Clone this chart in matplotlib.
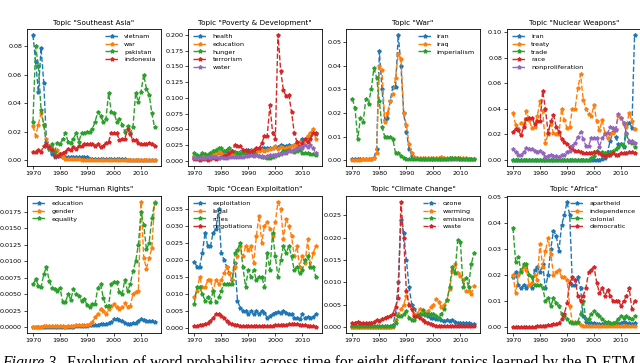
import numpy as np
import matplotlib
matplotlib.use("Agg")
import matplotlib.pyplot as plt
from matplotlib.ticker import MultipleLocator

years = list(range(1970, 2016))

# Southeast Asia
sea_vietnam = [0.088, 0.069, 0.048, 0.079, 0.054, 0.013, 0.008, 0.004, 0.002, 0.003,
               0.003, 0.002, 0.002, 0.002, 0.002, 0.002, 0.002, 0.002, 0.002, 0.002,
               0.002, 0.001, 0.001, 0.001, 0.001, 0.0008, 0.0008, 0.0007, 0.0007, 0.0006,
               0.0006, 0.0005, 0.0005, 0.0005, 0.0005, 0.0004, 0.0004, 0.0004, 0.0004, 0.0004,
               0.0003, 0.0003, 0.0003, 0.0003, 0.0003, 0.0003]
sea_war = [0.024, 0.017, 0.025, 0.033, 0.025, 0.015, 0.010, 0.008, 0.006, 0.007,
           0.004, 0.002, 0.001, 0.0008, 0.0006, 0.0005, 0.0005, 0.0005, 0.0004, 0.0004,
           0.0004, 0.0004, 0.0003, 0.0003, 0.0003, 0.0003, 0.0003, 0.0003, 0.0003, 0.0003,
           0.0003, 0.0003, 0.0003, 0.0003, 0.0003, 0.0003, 0.0003, 0.0003, 0.0003, 0.0003,
           0.0003, 0.0003, 0.0003, 0.0003, 0.0003, 0.0003]
sea_pakistan = [0.027, 0.080, 0.066, 0.035, 0.025, 0.010, 0.008, 0.011, 0.006, 0.012,
                0.011, 0.015, 0.019, 0.013, 0.012, 0.015, 0.019, 0.013, 0.019, 0.019,
                0.020, 0.020, 0.022, 0.027, 0.034, 0.031, 0.027, 0.029, 0.047, 0.034,
                0.033, 0.027, 0.029, 0.025, 0.020, 0.024, 0.019, 0.023, 0.047, 0.041,
                0.048, 0.060, 0.050, 0.046, 0.033, 0.023]
sea_indonesia = [0.006, 0.006, 0.007, 0.006, 0.010, 0.011, 0.009, 0.007, 0.003, 0.003,
                 0.004, 0.005, 0.006, 0.008, 0.007, 0.009, 0.008, 0.010, 0.010, 0.011,
                 0.011, 0.011, 0.011, 0.010, 0.011, 0.009, 0.010, 0.012, 0.013, 0.019,
                 0.019, 0.019, 0.014, 0.015, 0.015, 0.022, 0.018, 0.014, 0.014, 0.012,
                 0.011, 0.011, 0.011, 0.012, 0.011, 0.010]

# Poverty & Development
pov_health = [0.006, 0.005, 0.006, 0.007, 0.007, 0.008, 0.009, 0.010, 0.012, 0.013,
              0.014, 0.013, 0.012, 0.011, 0.011, 0.012, 0.013, 0.014, 0.015, 0.016,
              0.017, 0.017, 0.016, 0.016, 0.018, 0.020, 0.020, 0.021, 0.020, 0.020,
              0.022, 0.022, 0.025, 0.023, 0.024, 0.025, 0.024, 0.026, 0.028, 0.030,
              0.035, 0.033, 0.038, 0.040, 0.045, 0.042]
pov_education = [0.008, 0.007, 0.008, 0.009, 0.009, 0.010, 0.011, 0.012, 0.013, 0.014,
                 0.012, 0.011, 0.010, 0.009, 0.010, 0.011, 0.012, 0.013, 0.014, 0.013,
                 0.014, 0.015, 0.014, 0.015, 0.016, 0.017, 0.016, 0.018, 0.019, 0.020,
                 0.024, 0.019, 0.022, 0.020, 0.021, 0.022, 0.023, 0.025, 0.026, 0.030,
                 0.025, 0.033, 0.040, 0.045, 0.050, 0.035]
pov_hunger = [0.012, 0.010, 0.008, 0.012, 0.011, 0.010, 0.013, 0.015, 0.018, 0.020,
              0.021, 0.015, 0.018, 0.021, 0.015, 0.014, 0.012, 0.011, 0.013, 0.012,
              0.011, 0.010, 0.012, 0.009, 0.008, 0.007, 0.006, 0.005, 0.004, 0.006,
              0.008, 0.010, 0.012, 0.015, 0.016, 0.017, 0.016, 0.014, 0.015, 0.018,
              0.013, 0.012, 0.012, 0.011, 0.011, 0.010]
pov_terrorism = [0.003, 0.003, 0.002, 0.003, 0.003, 0.002, 0.003, 0.004, 0.003, 0.004,
                 0.006, 0.008, 0.010, 0.012, 0.015, 0.025, 0.024, 0.023, 0.018, 0.017,
                 0.015, 0.014, 0.018, 0.020, 0.020, 0.028, 0.040, 0.040, 0.088, 0.045,
                 0.035, 0.200, 0.143, 0.112, 0.103, 0.105, 0.078, 0.045, 0.030, 0.022,
                 0.028, 0.035, 0.030, 0.035, 0.045, 0.045]
pov_water = [0.005, 0.004, 0.004, 0.005, 0.005, 0.006, 0.005, 0.006, 0.006, 0.005,
             0.006, 0.005, 0.005, 0.006, 0.006, 0.007, 0.006, 0.006, 0.007, 0.008,
             0.008, 0.009, 0.008, 0.009, 0.008, 0.008, 0.007, 0.008, 0.009, 0.010,
             0.010, 0.011, 0.011, 0.012, 0.013, 0.015, 0.016, 0.018, 0.020, 0.022,
             0.021, 0.025, 0.022, 0.026, 0.020, 0.012]

# War
war_iran = [0.0005, 0.0005, 0.0005, 0.0005, 0.0005, 0.0005, 0.0005, 0.0006, 0.001, 0.005,
            0.046, 0.030, 0.017, 0.018, 0.025, 0.031, 0.031, 0.053, 0.040, 0.020,
            0.012, 0.005, 0.002, 0.001, 0.0008, 0.0006, 0.0005, 0.0005, 0.0005, 0.0005,
            0.0005, 0.0005, 0.0005, 0.0005, 0.0005, 0.0005, 0.0005, 0.0005, 0.0005, 0.0005,
            0.0005, 0.0005, 0.0005, 0.0005, 0.0005, 0.0005]
war_iraq = [0.0003, 0.0003, 0.0003, 0.0003, 0.0004, 0.0004, 0.0005, 0.0006, 0.0008, 0.003,
            0.040, 0.038, 0.016, 0.020, 0.025, 0.028, 0.035, 0.045, 0.043, 0.020,
            0.015, 0.007, 0.003, 0.0015, 0.001, 0.001, 0.001, 0.001, 0.001, 0.001,
            0.001, 0.001, 0.0012, 0.0015, 0.0012, 0.001, 0.001, 0.001, 0.001, 0.0008,
            0.0008, 0.0008, 0.0008, 0.0007, 0.0007, 0.0007]
war_imperialism = [0.026, 0.022, 0.009, 0.018, 0.016, 0.026, 0.024, 0.030, 0.039, 0.035,
                   0.025, 0.014, 0.010, 0.010, 0.010, 0.009, 0.003, 0.003, 0.002, 0.001,
                   0.0006, 0.0005, 0.0005, 0.0005, 0.0005, 0.0005, 0.0005, 0.0005, 0.0005, 0.0005,
                   0.0005, 0.0005, 0.0005, 0.0005, 0.0005, 0.0006, 0.0008, 0.0012, 0.001, 0.0008,
                   0.0006, 0.0006, 0.0006, 0.0006, 0.0006, 0.0006]

# Nuclear Weapons
nuc_iran = [0.0] * 33 + [0.0002, 0.001, 0.006, 0.015, 0.022, 0.018, 0.012,
                         0.012, 0.010, 0.028, 0.029, 0.025, 0.098]
nuc_treaty = [0.037, 0.027, 0.024, 0.029, 0.028, 0.038, 0.031, 0.025, 0.026, 0.034,
              0.046, 0.038, 0.013, 0.020, 0.028, 0.021, 0.020, 0.020, 0.040, 0.031,
              0.025, 0.026, 0.040, 0.040, 0.056, 0.067, 0.047, 0.040, 0.036, 0.034,
              0.043, 0.030, 0.023, 0.031, 0.021, 0.017, 0.020, 0.021, 0.024, 0.034,
              0.033, 0.028, 0.026, 0.037, 0.030, 0.024]
nuc_trade = [0.0] * 29 + [0.001, 0.003, 0.007, 0.005, 0.006, 0.005, 0.004, 0.006, 0.007,
                          0.008, 0.010, 0.012, 0.011, 0.020, 0.014, 0.013, 0.010]
nuc_race = [0.022, 0.024, 0.023, 0.019, 0.026, 0.032, 0.033, 0.033, 0.028, 0.030,
            0.030, 0.054, 0.040, 0.021, 0.030, 0.035, 0.026, 0.022, 0.016, 0.014,
            0.012, 0.010, 0.008, 0.007, 0.007, 0.006, 0.005, 0.005, 0.005, 0.005,
            0.006, 0.006, 0.005, 0.004, 0.003, 0.004, 0.004, 0.005, 0.004, 0.004,
            0.005, 0.005, 0.005, 0.006, 0.006, 0.005]
nuc_nonprolif = [0.008, 0.006, 0.004, 0.004, 0.006, 0.009, 0.008, 0.008, 0.007, 0.006,
                 0.007, 0.005, 0.002, 0.003, 0.004, 0.003, 0.003, 0.002, 0.004, 0.004,
                 0.006, 0.007, 0.011, 0.013, 0.018, 0.022, 0.016, 0.011, 0.011, 0.017,
                 0.017, 0.017, 0.010, 0.017, 0.020, 0.021, 0.026, 0.025, 0.023, 0.036,
                 0.033, 0.029, 0.021, 0.015, 0.015, 0.013]

# Human Rights
hr_education = [0.0001] * 16 + [0.00015, 0.0002, 0.0002, 0.0002,
                                0.00025, 0.0003, 0.0003, 0.0003, 0.0004, 0.0005, 0.0005, 0.0005, 0.0006, 0.0008,
                                0.0012, 0.0012, 0.0011, 0.0009, 0.0007, 0.0005, 0.0005, 0.0006, 0.0007, 0.0009,
                                0.0012, 0.0011, 0.0010, 0.0009, 0.0009, 0.0008]
hr_gender = [0.0001, 0.0001, 0.0001, 0.0001, 0.0002, 0.0002, 0.0002, 0.0002, 0.0002, 0.0002,
             0.0002, 0.0002, 0.0001, 0.0002, 0.0002, 0.0002, 0.0003, 0.0003, 0.0003, 0.0004,
             0.0004, 0.0005, 0.0008, 0.0015, 0.0020, 0.0027, 0.0025, 0.0020, 0.0027, 0.0032,
             0.0035, 0.0030, 0.0028, 0.0030, 0.0037, 0.0030, 0.0032, 0.0050, 0.0053, 0.0055,
             0.0190, 0.0105, 0.0089, 0.0105, 0.0120, 0.0190]
hr_equality = [0.0065, 0.0073, 0.0063, 0.0061, 0.0080, 0.0092, 0.0070, 0.0060, 0.0058, 0.0055,
               0.0060, 0.0038, 0.0038, 0.0050, 0.0042, 0.0058, 0.0050, 0.0047, 0.0040, 0.0043,
               0.0034, 0.0030, 0.0035, 0.0035, 0.0060, 0.0066, 0.0045, 0.0032, 0.0033, 0.0065,
               0.0068, 0.0068, 0.0053, 0.0050, 0.0072, 0.0055, 0.0065, 0.0085, 0.0100, 0.0125,
               0.0175, 0.0155, 0.0118, 0.0128, 0.0165, 0.0188]

# Ocean Exploitation
oc_exploitation = [0.0195, 0.018, 0.018, 0.022, 0.028, 0.024, 0.024, 0.028, 0.029, 0.035,
                   0.022, 0.020, 0.018, 0.016, 0.014, 0.019, 0.008, 0.006, 0.005, 0.005,
                   0.004, 0.005, 0.004, 0.005, 0.004, 0.005, 0.0045, 0.003, 0.0035, 0.004,
                   0.0045, 0.0048, 0.0045, 0.005, 0.0045, 0.004, 0.004, 0.003, 0.003, 0.0025,
                   0.004, 0.003, 0.0032, 0.003, 0.0032, 0.004]
oc_legal = [0.009, 0.011, 0.015, 0.012, 0.012, 0.014, 0.014, 0.011, 0.014, 0.013,
            0.014, 0.016, 0.018, 0.016, 0.014, 0.018, 0.021, 0.024, 0.021, 0.024,
            0.023, 0.024, 0.019, 0.027, 0.033, 0.025, 0.030, 0.031, 0.029, 0.027,
            0.031, 0.037, 0.035, 0.026, 0.032, 0.030, 0.027, 0.021, 0.024, 0.018,
            0.021, 0.019, 0.026, 0.018, 0.022, 0.024]
oc_rules = [0.007, 0.012, 0.012, 0.010, 0.008, 0.009, 0.0075, 0.011, 0.0075, 0.009,
            0.011, 0.013, 0.013, 0.013, 0.013, 0.022, 0.023, 0.025, 0.018, 0.012,
            0.017, 0.015, 0.017, 0.014, 0.015, 0.015, 0.012, 0.022, 0.017, 0.028,
            0.021, 0.015, 0.020, 0.024, 0.022, 0.024, 0.021, 0.017, 0.018, 0.016,
            0.017, 0.020, 0.021, 0.018, 0.018, 0.015]
oc_negotiations = [0.0005, 0.0007, 0.0008, 0.001, 0.0012, 0.0015, 0.002, 0.003, 0.004, 0.004,
                   0.0035, 0.003, 0.002, 0.0015, 0.0012, 0.001, 0.0008, 0.0006, 0.0006, 0.0005,
                   0.0005, 0.0005, 0.0005, 0.0005, 0.0005, 0.0005, 0.0005, 0.0005, 0.0006, 0.0007,
                   0.0008, 0.0009, 0.001, 0.001, 0.001, 0.0011, 0.0012, 0.0012, 0.0011, 0.001,
                   0.0009, 0.0008, 0.0006, 0.0005, 0.0005, 0.0004]

# Climate Change
cc_ozone = [0.0001] * 15 + [0.0005, 0.003, 0.010, 0.024, 0.021,
                            0.015, 0.009, 0.005, 0.004, 0.003, 0.003, 0.003, 0.0028, 0.0025, 0.002,
                            0.002, 0.0018, 0.0018, 0.0015, 0.0013, 0.0015, 0.0014, 0.0015, 0.0012, 0.001,
                            0.001, 0.001, 0.0009, 0.0009, 0.0008, 0.0008]
cc_warming = [0.0001] * 16 + [0.0015, 0.003, 0.004, 0.005,
                              0.007, 0.005, 0.004, 0.003, 0.003, 0.004, 0.0035, 0.003, 0.0035, 0.0045,
                              0.005, 0.0063, 0.0055, 0.0045, 0.005, 0.006, 0.0085, 0.0125, 0.0142, 0.012,
                              0.0115, 0.0105, 0.008, 0.008, 0.0073, 0.0093]
cc_emissions = [0.0002] * 16 + [0.001, 0.0025, 0.0025, 0.003,
                                0.0035, 0.002, 0.0015, 0.0015, 0.0025, 0.003, 0.0038, 0.003, 0.003, 0.003,
                                0.003, 0.0025, 0.002, 0.003, 0.004, 0.006, 0.009, 0.0135, 0.012, 0.0195,
                                0.019, 0.009, 0.011, 0.009, 0.014, 0.0165]
cc_waste = [0.0009, 0.001, 0.0012, 0.001, 0.0009, 0.001, 0.001, 0.001, 0.0012, 0.0015,
            0.0013, 0.0017, 0.002, 0.0022, 0.0025, 0.003, 0.0045, 0.0065, 0.028, 0.020,
            0.008, 0.005, 0.004, 0.0025, 0.0025, 0.002, 0.0015, 0.0012, 0.001, 0.0006,
            0.0004, 0.0003, 0.0003, 0.0003, 0.0002, 0.0002, 0.0002, 0.0002, 0.0002, 0.0002,
            0.0002, 0.0002, 0.0002, 0.0002, 0.0002, 0.0002]

# Africa
af_apartheid = [0.019, 0.021, 0.016, 0.015, 0.016, 0.015, 0.016, 0.015, 0.022, 0.023,
                0.021, 0.024, 0.015, 0.020, 0.030, 0.037, 0.035, 0.029, 0.039, 0.043,
                0.048, 0.043, 0.016, 0.016, 0.019, 0.015, 0.004, 0.002, 0.0015, 0.0015,
                0.0015, 0.0013, 0.001, 0.001, 0.001, 0.001, 0.001, 0.001, 0.001, 0.0012,
                0.0015, 0.002, 0.0015, 0.0015, 0.001, 0.0015]
af_independence = [0.020, 0.013, 0.020, 0.022, 0.023, 0.022, 0.016, 0.017, 0.020, 0.018,
                   0.032, 0.023, 0.029, 0.034, 0.028, 0.020, 0.021, 0.022, 0.019, 0.019,
                   0.018, 0.008, 0.002, 0.002, 0.0015, 0.0008, 0.0005, 0.0005, 0.0004, 0.0004,
                   0.0004, 0.0004, 0.0004, 0.0004, 0.0004, 0.0004, 0.0004, 0.0004, 0.0004, 0.0004,
                   0.0004, 0.0004, 0.0004, 0.0004, 0.0004, 0.0004]
af_colonial = [0.038, 0.025, 0.027, 0.021, 0.024, 0.024, 0.020, 0.019, 0.016, 0.016,
               0.016, 0.015, 0.010, 0.011, 0.008, 0.011, 0.009, 0.008, 0.005, 0.004,
               0.003, 0.002, 0.0015, 0.0015, 0.002, 0.005, 0.010, 0.003, 0.003, 0.005,
               0.006, 0.005, 0.004, 0.003, 0.002, 0.002, 0.0015, 0.0015, 0.002, 0.003,
               0.004, 0.0035, 0.004, 0.0035, 0.003, 0.004]
af_democratic = [0.0001] * 9 + [0.0003,
                                0.0005, 0.0005, 0.0005, 0.0007, 0.0008, 0.001, 0.001, 0.0015, 0.003, 0.005,
                                0.009, 0.017, 0.019, 0.018, 0.012, 0.010, 0.012, 0.015, 0.021, 0.022,
                                0.023, 0.017, 0.013, 0.015, 0.012, 0.014, 0.012, 0.010, 0.010, 0.010,
                                0.008, 0.010, 0.012, 0.015, 0.007, 0.010]

panels = [
    ('Topic "Southeast Asia"', [("vietnam", sea_vietnam), ("war", sea_war),
                                ("pakistan", sea_pakistan), ("indonesia", sea_indonesia)],
     "upper right", 0.02),
    ('Topic "Poverty & Development"', [("health", pov_health), ("education", pov_education),
                                       ("hunger", pov_hunger), ("terrorism", pov_terrorism),
                                       ("water", pov_water)], "upper left", 0.025),
    ('Topic "War"', [("iran", war_iran), ("iraq", war_iraq),
                     ("imperialism", war_imperialism)], "upper right", 0.01),
    ('Topic "Nuclear Weapons"', [("iran", nuc_iran), ("treaty", nuc_treaty), ("trade", nuc_trade),
                                 ("race", nuc_race), ("nonproliferation", nuc_nonprolif)],
     "upper left", 0.02),
    ('Topic "Human Rights"', [("education", hr_education), ("gender", hr_gender),
                              ("equality", hr_equality)], "upper left", 0.0025),
    ('Topic "Ocean Exploitation"', [("exploitation", oc_exploitation), ("legal", oc_legal),
                                    ("rules", oc_rules), ("negotiations", oc_negotiations)],
     "upper left", 0.005),
    ('Topic "Climate Change"', [("ozone", cc_ozone), ("warming", cc_warming),
                                ("emissions", cc_emissions), ("waste", cc_waste)],
     "upper right", 0.005),
    ('Topic "Africa"', [("apartheid", af_apartheid), ("independence", af_independence),
                        ("colonial", af_colonial), ("democratic", af_democratic)],
     "upper right", 0.01),
]

fig = plt.figure(figsize=(6.4, 3.63), dpi=100)
lefts = [0.042, 0.294, 0.541, 0.792]
bottoms = [0.543, 0.083]
w, h = 0.209, 0.378
fs = 4.6

for k, (title, series, loc, step) in enumerate(panels):
    ax = fig.add_axes([lefts[k % 4], bottoms[k // 4], w, h])
    for i, (name, vals) in enumerate(series):
        ax.plot(years, vals, "--", marker="*", color="C%d" % i, lw=1.0, ms=2.8, label=name)
    ax.set_title(title, fontsize=5.2, pad=3)
    ax.xaxis.set_major_locator(MultipleLocator(10))
    ax.yaxis.set_major_locator(MultipleLocator(step))
    ax.tick_params(labelsize=fs, length=2, width=0.5, pad=1.5)
    for s in ax.spines.values():
        s.set_linewidth(0.6)
    if k == 3:
        ax.set_yticks(np.arange(0, 0.101, 0.02))
        ax.set_yticklabels(["0.00", "0.02", "0.04", "0.06", "0.08", "0.10"])
    ax.legend(loc=loc, fontsize=fs, frameon=False, handlelength=2.2, labelspacing=0.35,
              borderaxespad=0.4)

# caption, cut by the bottom edge as in the source page
fig.text(0.004, -0.010, "Figure 3.", fontsize=11.3, family="Liberation Serif", style="italic",
         va="baseline", ha="left")
fig.text(0.105, -0.010, "Evolution of word probability across time for eight different topics learned by the D-ETM",
         fontsize=11.3, family="Liberation Serif", va="baseline", ha="left")

fig.savefig("out.png", dpi=100)
